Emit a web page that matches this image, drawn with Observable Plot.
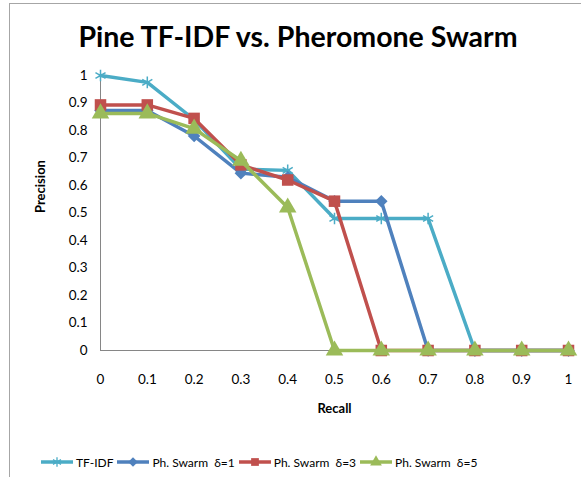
<!DOCTYPE html>
<html><head><meta charset="utf-8">
<script src="https://cdn.jsdelivr.net/npm/d3@7"></script>
<script src="https://cdn.jsdelivr.net/npm/@observablehq/plot@0.6"></script>
<style>
body{margin:0;background:#fff;}
#wrap{position:relative;width:581px;height:477px;overflow:hidden;font-family:Lato,"Open Sans",sans-serif;}
#frame{position:absolute;left:9px;top:3px;width:700px;height:600px;border-left:1.5px solid #a6a6a6;border-top:1.5px solid #a6a6a6;}
#title{position:absolute;left:0;width:596px;top:19px;text-align:center;font-weight:bold;font-size:28.5px;color:#000;}
#legend{position:absolute;top:454px;left:40px;display:flex;align-items:center;font-size:12px;white-space:pre;}
#legend .it{display:flex;align-items:center;margin-right:3px;}
#legend svg{margin-right:2px;}
#chart{position:absolute;left:0;top:0;}
</style></head>
<body><div id="wrap"><div id="frame"></div><div id="chart"></div><div id="title">Pine TF-IDF vs. Pheromone Swarm</div><div id="legend"></div></div>
<script>
const recall = [0,0.1,0.2,0.3,0.4,0.5,0.6,0.7,0.8,0.9,1];
const tfidf  = [1.0,0.975,0.84,0.66,0.655,0.48,0.48,0.48,0,0,0];
const swarm1 = [0.873,0.873,0.78,0.645,0.63,0.543,0.543,0,0,0,0];
const swarm3 = [0.893,0.893,0.844,0.675,0.62,0.543,0,0,0,0,0];
const swarm5 = [0.862,0.862,0.807,0.69,0.52,0,0,0,0,0,0];
const seriesNames = ["TF-IDF","Ph. Swarm  δ=1","Ph. Swarm  δ=3","Ph. Swarm  δ=5"];
const seriesColors = ["#4BACC6","#4F81BD","#C0504D","#9BBB59"];
const seriesSymbols = ["asterisk","diamond","square","triangle"];
const xTicks = [0,0.1,0.2,0.3,0.4,0.5,0.6,0.7,0.8,0.9,1];
const yTicks = [0,0.1,0.2,0.3,0.4,0.5,0.6,0.7,0.8,0.9,1];

const allSeries = [tfidf, swarm1, swarm3, swarm5];
const marks = [
  Plot.ruleY([0], {stroke:"#868686", strokeWidth:1}),
  Plot.ruleX([0], {stroke:"#868686", strokeWidth:1}),
  Plot.axisX(xTicks, {tickSize:0, tickPadding:24, tickFormat:d=>String(d), fontSize:13.5, label:null}),
  Plot.axisY(yTicks, {tickSize:0, tickPadding:13, tickFormat:d=>String(d), fontSize:13.5, label:null}),
  Plot.text(["Recall"], {x:0.5, frameAnchor:"bottom", dy:62, fontWeight:"bold", fontSize:13}),
  Plot.text(["Precision"], {y:0.5, frameAnchor:"left", dx:-60, rotate:-90, fontWeight:"bold", fontSize:13})
];
allSeries.forEach((vals, i) => {
  const data = recall.map((r, j) => ({x:r, y:vals[j]}));
  marks.push(Plot.line(data, {x:"x", y:"y", stroke:seriesColors[i], strokeWidth:3.5}));
  const sym = seriesSymbols[i];
  if (sym === "asterisk") {
    marks.push(Plot.dot(data, {x:"x", y:"y", symbol:"asterisk", r:5.5, stroke:seriesColors[i], strokeWidth:1.5}));
  } else if (sym === "diamond") {
    marks.push(Plot.dot(data, {x:"x", y:"y", symbol:"square", rotate:45, r:5, fill:seriesColors[i], stroke:"none"}));
  } else {
    marks.push(Plot.dot(data, {x:"x", y:"y", symbol:sym, r:6.5, fill:seriesColors[i], stroke:"none"}));
  }
});

const chart = Plot.plot({
  width:581, height:477,
  marginLeft:100, marginRight:13, marginTop:75, marginBottom:127,
  x:{domain:[0,1]}, y:{domain:[0,1]},
  style:{fontFamily:"Lato, 'Open Sans', sans-serif", fontSize:"13px", color:"#000", background:"transparent"},
  marks
});
document.getElementById("chart").appendChild(chart);

// legend
const leg = document.getElementById("legend");
seriesNames.forEach((name, i) => {
  const it = document.createElement("div"); it.className = "it";
  const w = 34, h = 16;
  const s = d3.create("svg").attr("width", w).attr("height", h);
  s.append("line").attr("x1",1).attr("x2",w-1).attr("y1",h/2).attr("y2",h/2).attr("stroke",seriesColors[i]).attr("stroke-width",3.5);
  const symName = seriesSymbols[i];
  const sym = {asterisk:d3.symbolAsterisk, diamond:d3.symbolSquare, square:d3.symbolSquare, triangle:d3.symbolTriangle}[symName];
  const p = s.append("path").attr("transform",`translate(${w/2},${h/2})${symName==="diamond"?" rotate(45)":""}`).attr("d", d3.symbol(sym, symName==="diamond"?45:60)());
  if (symName==="asterisk") p.attr("fill","none").attr("stroke",seriesColors[i]).attr("stroke-width",1.3);
  else p.attr("fill",seriesColors[i]);
  it.appendChild(s.node());
  const t = document.createElement("span"); t.textContent = name; it.appendChild(t);
  leg.appendChild(it);
});
</script></body></html>
